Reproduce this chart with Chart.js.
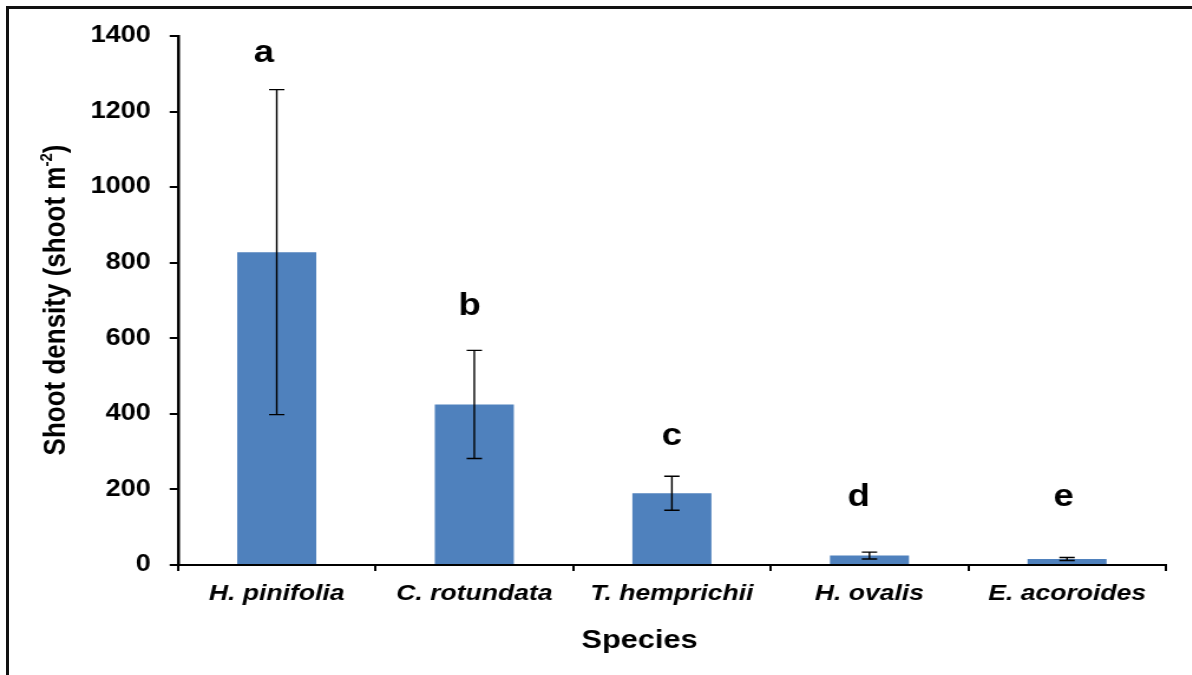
<!DOCTYPE html>
<html>
<head>
<meta charset="utf-8">
<script src="https://cdn.jsdelivr.net/npm/chart.js@4.4.1/dist/chart.umd.min.js"></script>
<style>
  html, body { margin: 0; padding: 0; background: #fff; overflow: hidden; }
  #frame { position: absolute; left: 6px; top: 6px; width: 1200px; height: 700px;
           border-top: 3px solid #111; border-left: 3px solid #111; pointer-events: none; }
  #wrap { position: absolute; left: 0; top: 0; width: 1010px; height: 675px;
          transform: scaleX(1.18); transform-origin: 0 0; }
</style>
</head>
<body>
<div id="wrap"><canvas id="c"></canvas></div>
<div id="frame"></div>
<script>
// ---- data ----
const species = ['H. pinifolia', 'C. rotundata', 'T. hemprichii', 'H. ovalis', 'E. acoroides'];
const means   = [828, 425, 190, 25, 16];
const errors  = [430, 143, 45, 9, 4];
const letters = ['a', 'b', 'c', 'd', 'e'];
const letterY = [1355, 685, 340, 180, 180];
const yMin = 0, yMax = 1400, yStep = 200;
const xTitle = 'Species';
const yTitleMain = 'Shoot density (shoot m';
const yTitleSup = '-2';
const yTitleEnd = ')';

const FONT = '"Liberation Sans", Arial, sans-serif';

const errorBars = {
  id: 'errorBars',
  afterDatasetsDraw(chart, args, opts) {
    const ctx = chart.ctx;
    const ys = chart.scales.y;
    const meta = chart.getDatasetMeta(0);
    ctx.save();
    ctx.strokeStyle = '#000';
    ctx.lineWidth = 1.4;
    meta.data.forEach((bar, i) => {
      const x = bar.x;
      const yt = ys.getPixelForValue(means[i] + errors[i]);
      const yb = ys.getPixelForValue(means[i] - errors[i]);
      const cap = 6.5;
      ctx.beginPath();
      ctx.moveTo(x, yt); ctx.lineTo(x, yb);
      ctx.moveTo(x - cap, yt); ctx.lineTo(x + cap, yt);
      ctx.moveTo(x - cap, yb); ctx.lineTo(x + cap, yb);
      ctx.stroke();
    });
    // significance letters
    const dx = (opts && opts.letterDx) || [];
    ctx.fillStyle = '#000';
    ctx.font = 'bold 31px ' + FONT;
    ctx.textAlign = 'center';
    ctx.textBaseline = 'middle';
    meta.data.forEach((bar, i) => {
      ctx.fillText(letters[i], bar.x + (dx[i] || 0), ys.getPixelForValue(letterY[i]));
    });
    ctx.restore();
  }
};

const titles = {
  id: 'titles',
  afterDraw(chart) {
    const ctx = chart.ctx;
    ctx.save();
    ctx.fillStyle = '#000';
    // x title
    ctx.font = 'bold 26px ' + FONT;
    ctx.textAlign = 'center';
    ctx.textBaseline = 'middle';
    ctx.fillText(xTitle, 542, 641);
    // y title (rotated, with superscript)
    const mainFont = 'bold 26px ' + FONT;
    const supFont = 'bold 15px ' + FONT;
    ctx.font = mainFont;
    const w1 = ctx.measureText(yTitleMain).width;
    const w3 = ctx.measureText(yTitleEnd).width;
    ctx.font = supFont;
    const w2 = ctx.measureText(yTitleSup).width;
    const total = w1 + w2 + w3;
    ctx.translate(48, 300);
    ctx.rotate(-Math.PI / 2);
    ctx.textAlign = 'left';
    ctx.textBaseline = 'middle';
    let x = -total / 2;
    ctx.font = mainFont;
    ctx.fillText(yTitleMain, x, 0); x += w1;
    ctx.font = supFont;
    ctx.fillText(yTitleSup, x, -8); x += w2;
    ctx.font = mainFont;
    ctx.fillText(yTitleEnd, x, 0);
    ctx.restore();
  }
};

new Chart(document.getElementById('c'), {
  type: 'bar',
  data: {
    labels: species,
    datasets: [{
      data: means,
      backgroundColor: '#4F81BD',
      borderWidth: 0,
      barPercentage: 0.4,
      categoryPercentage: 1.0
    }]
  },
  options: {
    responsive: true,
    maintainAspectRatio: false,
    animation: false,
    layout: { padding: { top: 36, right: 22, left: 0, bottom: 0 } },
    plugins: {
      legend: { display: false },
      tooltip: { enabled: false },
      errorBars: { letterDx: [-11, -4, 0, -9, -3] }
    },
    scales: {
      x: {
        offset: true,
        grid: { display: true, drawOnChartArea: false, drawTicks: true, tickLength: 6,
                color: '#000', lineWidth: 2, offset: true },
        border: { display: true, color: '#000', width: 2 },
        ticks: { color: '#000', padding: 9,
                 font: { family: FONT, size: 22.5, weight: 'bold', style: 'italic' } },
        afterFit(s) { s.height = 110; }
      },
      y: {
        min: yMin, max: yMax,
        grid: { display: true, drawOnChartArea: false, drawTicks: true, tickLength: 7,
                color: '#000', lineWidth: 2 },
        border: { display: true, color: '#000', width: 2.5 },
        ticks: { stepSize: yStep, color: '#000', padding: 16,
                 callback: (v) => String(v),
                 font: { family: FONT, size: 23, weight: 'bold' } },
        afterFit(s) { s.width = 150.8; }
      }
    }
  },
  plugins: [errorBars, titles]
});
</script>
</body>
</html>
